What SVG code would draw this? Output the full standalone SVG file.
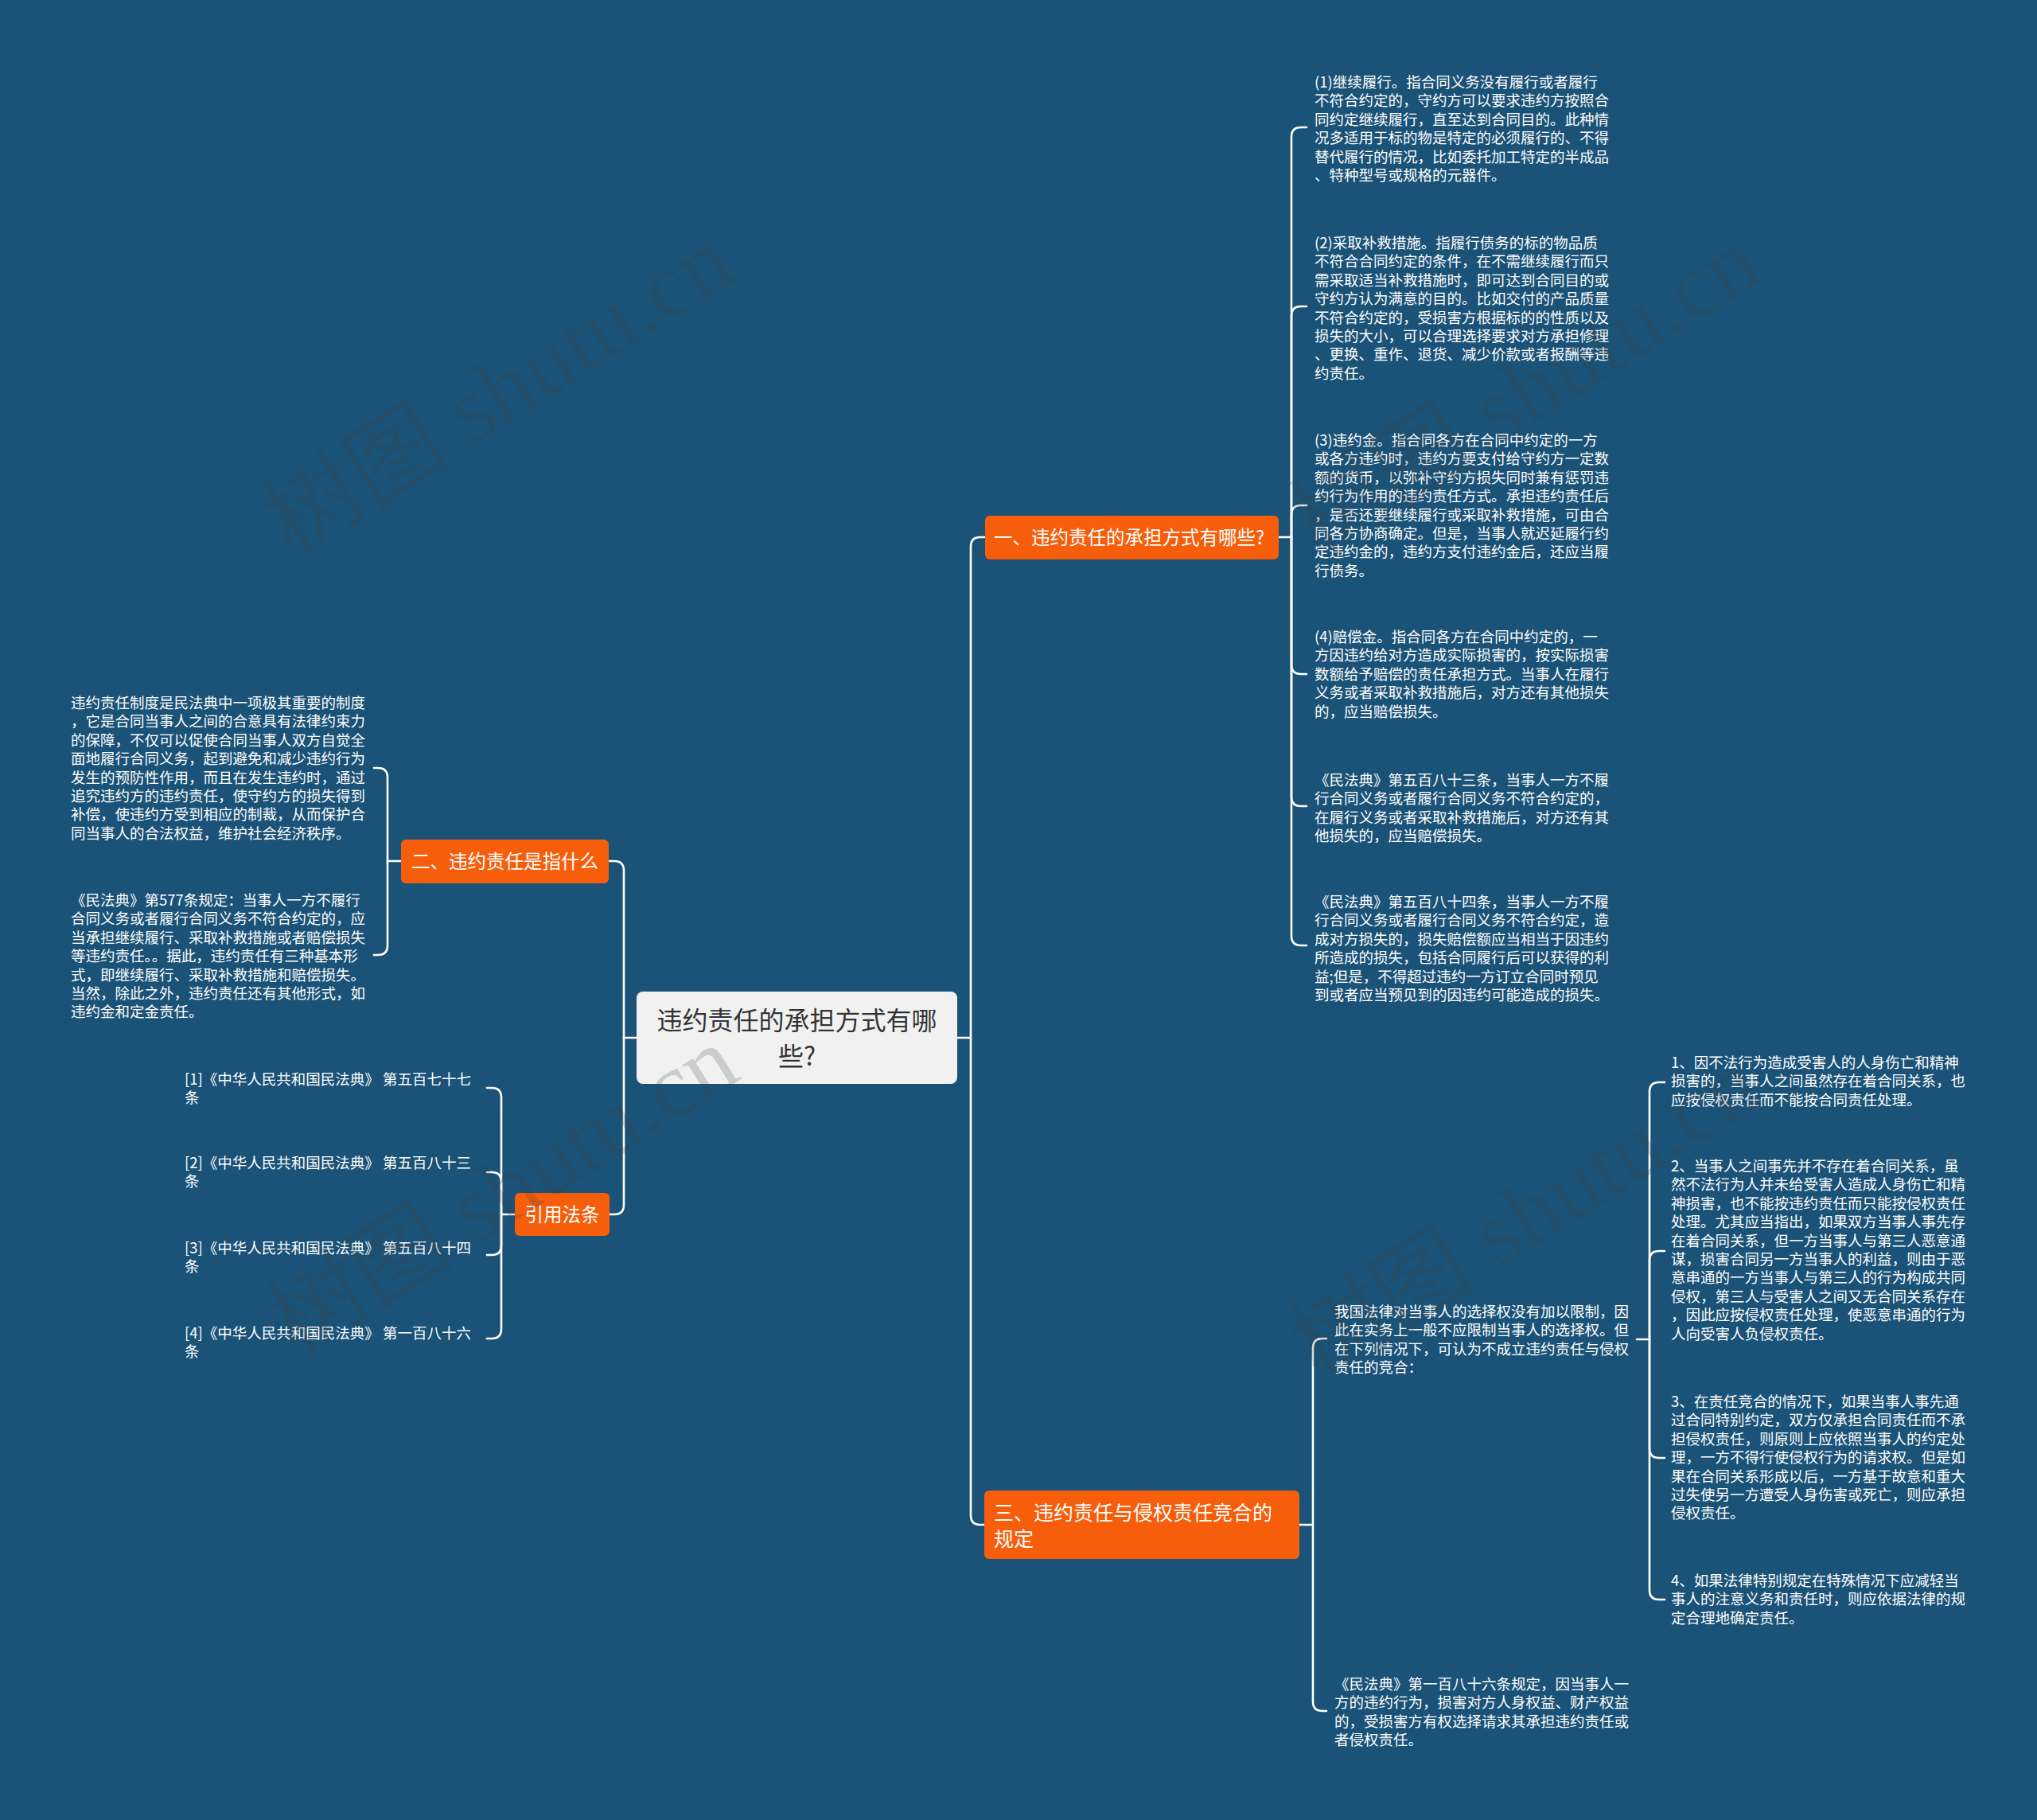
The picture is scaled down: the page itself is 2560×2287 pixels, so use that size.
<svg xmlns="http://www.w3.org/2000/svg" width="2560" height="2287" viewBox="0 0 2560 2287">
<style>
.bg{fill:#1b5378}
.conn{fill:none;stroke:#ffffff;stroke-width:2.6;stroke-linecap:round}
.t{font-family:"Noto Sans CJK SC","Noto Sans",sans-serif;font-size:18.5px;fill:#ffffff}
.b{font-family:"Noto Sans CJK SC","Noto Sans",sans-serif;font-size:23.5px;fill:#ffffff}
.b3{font-family:"Noto Sans CJK SC","Noto Sans",sans-serif;font-size:25px;fill:#ffffff}
.c{font-family:"Noto Sans CJK SC","Noto Sans",sans-serif;font-size:32px;fill:#333333}
.box{fill:#f65e0c}
.wm{font-family:"Liberation Serif","Noto Sans CJK SC",serif;font-size:118px;fill:#3c3c3c;opacity:0.2}
</style>
<rect class="bg" x="0" y="0" width="2560" height="2287"/>

<g id="connectors">
  <path class="conn" d="M1203,1304 H1220"/>
  <path class="conn" d="M1220,1304 V687 Q1220,675 1232,675 H1237"/>
  <path class="conn" d="M1220,1304 V1904 Q1220,1916 1232,1916 H1237"/>
  <path class="conn" d="M800,1304 H784"/>
  <path class="conn" d="M784,1304 V1094 Q784,1082 772,1082 H766"/>
  <path class="conn" d="M784,1304 V1514 Q784,1526 772,1526 H766"/>
  <path class="conn" d="M1607,675 H1623 V172 Q1623,160 1635,160 H1642"/>
  <path class="conn" d="M1623,675 V397 Q1623,385 1635,385 H1642"/>
  <path class="conn" d="M1623,675 V647 Q1623,635 1635,635 H1642"/>
  <path class="conn" d="M1623,675 V835 Q1623,847 1635,847 H1642"/>
  <path class="conn" d="M1623,675 V1001 Q1623,1013 1635,1013 H1642"/>
  <path class="conn" d="M1623,675 V1176 Q1623,1188 1635,1188 H1642"/>
  <path class="conn" d="M504,1082 H487 V977 Q487,965 475,965 H470"/>
  <path class="conn" d="M487,1082 V1188 Q487,1200 475,1200 H470"/>
  <path class="conn" d="M647,1526 H630 V1379 Q630,1367 618,1367 H612"/>
  <path class="conn" d="M630,1526 V1485 Q630,1473 618,1473 H612"/>
  <path class="conn" d="M630,1526 V1565 Q630,1577 618,1577 H612"/>
  <path class="conn" d="M630,1526 V1670 Q630,1682 618,1682 H612"/>
  <path class="conn" d="M1633,1916 H1650 V1694 Q1650,1682 1662,1682 H1667"/>
  <path class="conn" d="M1650,1916 V2138 Q1650,2150 1662,2150 H1667"/>
  <path class="conn" d="M2057,1683 H2073 V1372 Q2073,1360 2085,1360 H2092"/>
  <path class="conn" d="M2073,1683 V1584 Q2073,1572 2085,1572 H2092"/>
  <path class="conn" d="M2073,1683 V1820 Q2073,1832 2085,1832 H2092"/>
  <path class="conn" d="M2073,1683 V1998 Q2073,2010 2085,2010 H2092"/>
</g>

<g id="center">
  <rect x="800" y="1246" width="403" height="116" rx="8" fill="#f1f1f1"/>
  <text class="c" x="1001.5" y="1294" text-anchor="middle">违约责任的承担方式有哪</text>
  <text class="c" x="1001.5" y="1339" text-anchor="middle">些?</text>
</g>

<g id="branch1">
  <rect class="box" x="1238" y="648" width="369" height="55" rx="6"/>
  <text class="b" x="1249" y="684">一、违约责任的承担方式有哪些?</text>
</g>

<g id="branch2">
  <rect class="box" x="504" y="1055" width="261" height="55" rx="6"/>
  <text class="b" x="517" y="1091">二、违约责任是指什么</text>
</g>

<g id="branch-cite">
  <rect class="box" x="647" y="1499" width="119" height="54" rx="6"/>
  <text class="b" x="659.5" y="1534.5">引用法条</text>
</g>

<g id="branch3">
  <rect class="box" x="1237" y="1873" width="396" height="86" rx="6"/>
  <text class="b3" x="1249" y="1910">三、违约责任与侵权责任竞合的</text>
  <text class="b3" x="1249" y="1943">规定</text>
</g>

<g id="r1">
  <text class="t" x="1652" y="110">
    <tspan x="1652">(1)继续履行。指合同义务没有履行或者履行</tspan>
    <tspan x="1652" dy="23.4">不符合约定的，守约方可以要求违约方按照合</tspan>
    <tspan x="1652" dy="23.4">同约定继续履行，直至达到合同目的。此种情</tspan>
    <tspan x="1652" dy="23.4">况多适用于标的物是特定的必须履行的、不得</tspan>
    <tspan x="1652" dy="23.4">替代履行的情况，比如委托加工特定的半成品</tspan>
    <tspan x="1652" dy="23.4">、特种型号或规格的元器件。</tspan>
  </text>
</g>
<g id="r2">
  <text class="t" x="1652" y="312">
    <tspan x="1652">(2)采取补救措施。指履行债务的标的物品质</tspan>
    <tspan x="1652" dy="23.4">不符合合同约定的条件，在不需继续履行而只</tspan>
    <tspan x="1652" dy="23.4">需采取适当补救措施时，即可达到合同目的或</tspan>
    <tspan x="1652" dy="23.4">守约方认为满意的目的。比如交付的产品质量</tspan>
    <tspan x="1652" dy="23.4">不符合约定的，受损害方根据标的的性质以及</tspan>
    <tspan x="1652" dy="23.4">损失的大小，可以合理选择要求对方承担修理</tspan>
    <tspan x="1652" dy="23.4">、更换、重作、退货、减少价款或者报酬等违</tspan>
    <tspan x="1652" dy="23.4">约责任。</tspan>
  </text>
</g>
<g id="r3">
  <text class="t" x="1652" y="560">
    <tspan x="1652">(3)违约金。指合同各方在合同中约定的一方</tspan>
    <tspan x="1652" dy="23.4">或各方违约时，违约方要支付给守约方一定数</tspan>
    <tspan x="1652" dy="23.4">额的货币，以弥补守约方损失同时兼有惩罚违</tspan>
    <tspan x="1652" dy="23.4">约行为作用的违约责任方式。承担违约责任后</tspan>
    <tspan x="1652" dy="23.4">，是否还要继续履行或采取补救措施，可由合</tspan>
    <tspan x="1652" dy="23.4">同各方协商确定。但是，当事人就迟延履行约</tspan>
    <tspan x="1652" dy="23.4">定违约金的，违约方支付违约金后，还应当履</tspan>
    <tspan x="1652" dy="23.4">行债务。</tspan>
  </text>
</g>
<g id="r4">
  <text class="t" x="1652" y="807">
    <tspan x="1652">(4)赔偿金。指合同各方在合同中约定的，一</tspan>
    <tspan x="1652" dy="23.4">方因违约给对方造成实际损害的，按实际损害</tspan>
    <tspan x="1652" dy="23.4">数额给予赔偿的责任承担方式。当事人在履行</tspan>
    <tspan x="1652" dy="23.4">义务或者采取补救措施后，对方还有其他损失</tspan>
    <tspan x="1652" dy="23.4">的，应当赔偿损失。</tspan>
  </text>
</g>
<g id="r5">
  <text class="t" x="1652" y="987">
    <tspan x="1652">《民法典》第五百八十三条，当事人一方不履</tspan>
    <tspan x="1652" dy="23.4">行合同义务或者履行合同义务不符合约定的，</tspan>
    <tspan x="1652" dy="23.4">在履行义务或者采取补救措施后，对方还有其</tspan>
    <tspan x="1652" dy="23.4">他损失的，应当赔偿损失。</tspan>
  </text>
</g>
<g id="r6">
  <text class="t" x="1652" y="1140">
    <tspan x="1652">《民法典》第五百八十四条，当事人一方不履</tspan>
    <tspan x="1652" dy="23.4">行合同义务或者履行合同义务不符合约定，造</tspan>
    <tspan x="1652" dy="23.4">成对方损失的，损失赔偿额应当相当于因违约</tspan>
    <tspan x="1652" dy="23.4">所造成的损失，包括合同履行后可以获得的利</tspan>
    <tspan x="1652" dy="23.4">益;但是，不得超过违约一方订立合同时预见</tspan>
    <tspan x="1652" dy="23.4">到或者应当预见到的因违约可能造成的损失。</tspan>
  </text>
</g>

<g id="l1">
  <text class="t" x="89" y="890">
    <tspan x="89">违约责任制度是民法典中一项极其重要的制度</tspan>
    <tspan x="89" dy="23.4">，它是合同当事人之间的合意具有法律约束力</tspan>
    <tspan x="89" dy="23.4">的保障，不仅可以促使合同当事人双方自觉全</tspan>
    <tspan x="89" dy="23.4">面地履行合同义务，起到避免和减少违约行为</tspan>
    <tspan x="89" dy="23.4">发生的预防性作用，而且在发生违约时，通过</tspan>
    <tspan x="89" dy="23.4">追究违约方的违约责任，使守约方的损失得到</tspan>
    <tspan x="89" dy="23.4">补偿，使违约方受到相应的制裁，从而保护合</tspan>
    <tspan x="89" dy="23.4">同当事人的合法权益，维护社会经济秩序。</tspan>
  </text>
</g>
<g id="l2">
  <text class="t" x="89" y="1138">
    <tspan x="89">《民法典》第577条规定：当事人一方不履行</tspan>
    <tspan x="89" dy="23.4">合同义务或者履行合同义务不符合约定的，应</tspan>
    <tspan x="89" dy="23.4">当承担继续履行、采取补救措施或者赔偿损失</tspan>
    <tspan x="89" dy="23.4">等违约责任。。据此，违约责任有三种基本形</tspan>
    <tspan x="89" dy="23.4">式，即继续履行、采取补救措施和赔偿损失。</tspan>
    <tspan x="89" dy="23.4">当然，除此之外，违约责任还有其他形式，如</tspan>
    <tspan x="89" dy="23.4">违约金和定金责任。</tspan>
  </text>
</g>

<g id="cite1">
  <text class="t" x="232" y="1363"><tspan x="232">[1]《中华人民共和国民法典》 第五百七十七</tspan><tspan x="232" dy="23.4">条</tspan></text>
</g>
<g id="cite2">
  <text class="t" x="232" y="1468"><tspan x="232">[2]《中华人民共和国民法典》 第五百八十三</tspan><tspan x="232" dy="23.4">条</tspan></text>
</g>
<g id="cite3">
  <text class="t" x="232" y="1575"><tspan x="232">[3]《中华人民共和国民法典》 第五百八十四</tspan><tspan x="232" dy="23.4">条</tspan></text>
</g>
<g id="cite4">
  <text class="t" x="232" y="1682"><tspan x="232">[4]《中华人民共和国民法典》 第一百八十六</tspan><tspan x="232" dy="23.4">条</tspan></text>
</g>

<g id="b3a">
  <text class="t" x="1677" y="1655">
    <tspan x="1677">我国法律对当事人的选择权没有加以限制，因</tspan>
    <tspan x="1677" dy="23.4">此在实务上一般不应限制当事人的选择权。但</tspan>
    <tspan x="1677" dy="23.4">在下列情况下，可认为不成立违约责任与侵权</tspan>
    <tspan x="1677" dy="23.4">责任的竞合：</tspan>
  </text>
</g>
<g id="b3b">
  <text class="t" x="1677" y="2123">
    <tspan x="1677">《民法典》第一百八十六条规定，因当事人一</tspan>
    <tspan x="1677" dy="23.4">方的违约行为，损害对方人身权益、财产权益</tspan>
    <tspan x="1677" dy="23.4">的，受损害方有权选择请求其承担违约责任或</tspan>
    <tspan x="1677" dy="23.4">者侵权责任。</tspan>
  </text>
</g>

<g id="s1">
  <text class="t" x="2100" y="1342">
    <tspan x="2100">1、因不法行为造成受害人的人身伤亡和精神</tspan>
    <tspan x="2100" dy="23.4">损害的，当事人之间虽然存在着合同关系，也</tspan>
    <tspan x="2100" dy="23.4">应按侵权责任而不能按合同责任处理。</tspan>
  </text>
</g>
<g id="s2">
  <text class="t" x="2100" y="1472">
    <tspan x="2100">2、当事人之间事先并不存在着合同关系，虽</tspan>
    <tspan x="2100" dy="23.4">然不法行为人并未给受害人造成人身伤亡和精</tspan>
    <tspan x="2100" dy="23.4">神损害，也不能按违约责任而只能按侵权责任</tspan>
    <tspan x="2100" dy="23.4">处理。尤其应当指出，如果双方当事人事先存</tspan>
    <tspan x="2100" dy="23.4">在着合同关系，但一方当事人与第三人恶意通</tspan>
    <tspan x="2100" dy="23.4">谋，损害合同另一方当事人的利益，则由于恶</tspan>
    <tspan x="2100" dy="23.4">意串通的一方当事人与第三人的行为构成共同</tspan>
    <tspan x="2100" dy="23.4">侵权，第三人与受害人之间又无合同关系存在</tspan>
    <tspan x="2100" dy="23.4">，因此应按侵权责任处理，使恶意串通的行为</tspan>
    <tspan x="2100" dy="23.4">人向受害人负侵权责任。</tspan>
  </text>
</g>
<g id="s3">
  <text class="t" x="2100" y="1768">
    <tspan x="2100">3、在责任竞合的情况下，如果当事人事先通</tspan>
    <tspan x="2100" dy="23.4">过合同特别约定，双方仅承担合同责任而不承</tspan>
    <tspan x="2100" dy="23.4">担侵权责任，则原则上应依照当事人的约定处</tspan>
    <tspan x="2100" dy="23.4">理，一方不得行使侵权行为的请求权。但是如</tspan>
    <tspan x="2100" dy="23.4">果在合同关系形成以后，一方基于故意和重大</tspan>
    <tspan x="2100" dy="23.4">过失使另一方遭受人身伤害或死亡，则应承担</tspan>
    <tspan x="2100" dy="23.4">侵权责任。</tspan>
  </text>
</g>
<g id="s4">
  <text class="t" x="2100" y="1993">
    <tspan x="2100">4、如果法律特别规定在特殊情况下应减轻当</tspan>
    <tspan x="2100" dy="23.4">事人的注意义务和责任时，则应依据法律的规</tspan>
    <tspan x="2100" dy="23.4">定合理地确定责任。</tspan>
  </text>
</g>

<g id="watermarks">
  <text class="wm" text-anchor="middle" transform="translate(648,525) rotate(-32)">树图 shutu.cn</text>
  <text class="wm" text-anchor="middle" transform="translate(1938,525) rotate(-32)">树图 shutu.cn</text>
  <text class="wm" text-anchor="middle" transform="translate(653,1530) rotate(-32)">树图 shutu.cn</text>
  <text class="wm" text-anchor="middle" transform="translate(1938,1560) rotate(-32)">树图 shutu.cn</text>
</g>
</svg>
